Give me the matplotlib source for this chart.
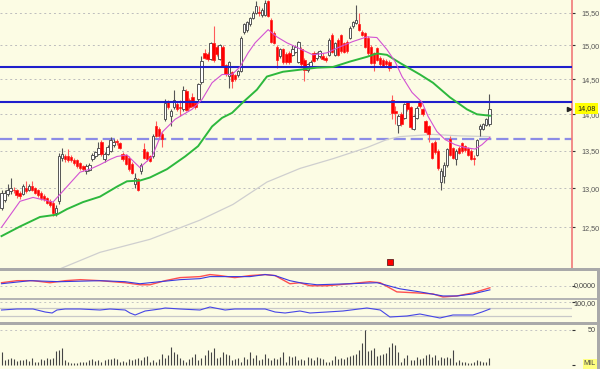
import numpy as np
import matplotlib
matplotlib.use('Agg')
import matplotlib.pyplot as plt
from matplotlib.patches import Rectangle
from matplotlib.ticker import NullLocator, NullFormatter
import matplotlib.transforms as mtransforms

plt.rcParams['font.family'] = ['Liberation Sans', 'DejaVu Sans']

# ---- price candles (open, high, low, close) ----
opens = [12.75, 12.85, 12.92, 12.96, 12.98, 12.97, 12.94, 12.93, 13.00, 12.98,
         13.03, 13.00, 12.97, 12.94, 12.90, 12.87, 12.84, 12.81, 12.68, 12.84,
         13.40, 13.42, 13.43, 13.41, 13.37, 13.37, 13.33, 13.29, 13.23, 13.24,
         13.38, 13.42, 13.46, 13.62, 13.39, 13.46, 13.50, 13.58, 13.63, 13.60,
         13.46, 13.44, 13.40, 13.32, 13.06, 13.12, 13.22, 13.52, 13.48, 13.42,
         13.43, 13.84, 13.80, 13.72, 13.93, 14.17, 13.97, 14.10, 14.14, 14.10,
         14.07, 14.33, 14.20, 14.24, 14.16, 14.21, 14.46, 14.88, 14.87, 14.80,
         15.03, 14.97, 14.80, 14.98, 14.71, 14.55, 14.60, 14.56, 14.56, 14.62,
         15.21, 15.24, 15.32, 15.42, 15.50, 15.51, 15.47, 15.47, 15.68, 15.39,
         15.19, 14.98, 14.85, 14.94, 14.87, 14.89, 14.86, 14.90, 14.76, 14.94,
         14.79, 14.64, 14.69, 14.89, 14.81, 14.84, 14.85, 14.82, 14.86, 15.16,
         14.86, 15.09, 15.16, 15.04, 15.06, 15.12, 15.29, 15.34, 15.32, 15.21,
         15.19, 15.12, 14.98, 14.88, 14.96, 14.82, 14.79, 14.77, 14.76, 14.20,
         14.04, 13.85, 14.00, 13.95, 14.17, 14.10, 13.80, 13.95, 14.17, 14.07,
         13.90, 13.83, 13.60, 13.62, 13.50, 13.08, 13.16, 13.30, 13.66, 13.53,
         13.38, 13.53, 13.60, 13.56, 13.53, 13.50, 13.40, 13.44, 13.79, 13.80,
         13.85, 13.86]
highs = [12.98, 12.98, 13.05, 13.13, 13.02, 12.99, 12.96, 13.05, 13.10, 13.05,
         13.09, 13.02, 12.99, 12.96, 12.92, 12.89, 12.86, 12.83, 12.78, 13.47,
         13.53, 13.46, 13.52, 13.44, 13.40, 13.39, 13.35, 13.31, 13.32, 13.33,
         13.47, 13.50, 13.62, 13.64, 13.48, 13.57, 13.68, 13.66, 13.66, 13.62,
         13.48, 13.46, 13.42, 13.34, 13.20, 13.14, 13.33, 13.60, 13.50, 13.44,
         13.72, 13.90, 13.82, 13.75, 14.22, 14.20, 14.08, 14.35, 14.17, 14.20,
         14.40, 14.36, 14.23, 14.30, 14.18, 14.45, 14.85, 14.94, 14.90, 15.05,
         15.29, 15.00, 15.02, 15.00, 14.73, 14.77, 14.62, 14.58, 14.64, 15.14,
         15.34, 15.37, 15.44, 15.52, 15.68, 15.60, 15.57, 15.70, 15.70, 15.42,
         15.22, 15.00, 14.96, 14.96, 14.90, 14.92, 15.00, 15.00, 15.07, 14.97,
         14.81, 14.74, 14.78, 14.92, 14.90, 14.93, 14.88, 14.84, 15.11, 15.19,
         15.06, 15.12, 15.18, 15.06, 15.08, 15.29, 15.38, 15.62, 15.50, 15.24,
         15.21, 15.14, 15.00, 14.90, 14.98, 14.85, 14.82, 14.80, 14.78, 14.28,
         14.12, 14.00, 14.03, 14.16, 14.19, 14.12, 13.99, 14.11, 14.20, 14.09,
         13.92, 13.85, 13.62, 13.64, 13.52, 13.27, 13.35, 13.54, 13.70, 13.55,
         13.52, 13.56, 13.62, 13.58, 13.55, 13.52, 13.44, 13.66, 13.86, 13.88,
         13.95, 14.29]
lows = [12.72, 12.82, 12.90, 12.93, 12.94, 12.87, 12.86, 12.91, 12.94, 12.96,
        12.96, 12.92, 12.89, 12.85, 12.84, 12.79, 12.76, 12.64, 12.64, 12.80,
        13.36, 13.35, 13.35, 13.34, 13.30, 13.27, 13.24, 13.22, 13.18, 13.22,
        13.36, 13.40, 13.44, 13.43, 13.35, 13.44, 13.48, 13.55, 13.58, 13.52,
        13.36, 13.30, 13.23, 13.18, 13.00, 12.96, 13.18, 13.38, 13.36, 13.34,
        13.40, 13.68, 13.68, 13.55, 13.90, 14.07, 13.84, 14.07, 14.05, 13.98,
        14.04, 14.04, 14.08, 14.10, 14.08, 14.18, 14.43, 14.80, 14.77, 14.78,
        14.76, 14.85, 14.78, 14.68, 14.55, 14.37, 14.37, 14.48, 14.54, 14.60,
        15.18, 15.20, 15.29, 15.40, 15.48, 15.45, 15.44, 15.45, 15.43, 15.03,
        15.02, 14.67, 14.82, 14.72, 14.72, 14.73, 14.84, 14.88, 14.74, 14.70,
        14.47, 14.60, 14.66, 14.75, 14.79, 14.82, 14.78, 14.76, 14.84, 14.88,
        14.84, 14.84, 14.89, 14.88, 14.89, 15.10, 15.27, 15.32, 15.22, 15.14,
        14.96, 14.86, 14.72, 14.62, 14.77, 14.70, 14.68, 14.70, 14.62, 13.93,
        13.86, 13.74, 13.84, 13.93, 14.05, 13.80, 13.78, 13.93, 14.09, 13.98,
        13.74, 13.62, 13.38, 13.46, 13.24, 12.98, 13.07, 13.28, 13.42, 13.38,
        13.30, 13.45, 13.47, 13.48, 13.42, 13.37, 13.30, 13.42, 13.70, 13.78,
        13.83, 13.84]
closes = [12.94, 12.94, 12.97, 13.00, 12.97, 12.91, 12.90, 13.03, 12.96, 13.03,
          12.98, 12.94, 12.91, 12.87, 12.86, 12.81, 12.78, 12.68, 12.75, 13.43,
          13.45, 13.38, 13.37, 13.37, 13.33, 13.29, 13.26, 13.25, 13.29, 13.31,
          13.44, 13.48, 13.53, 13.45, 13.46, 13.55, 13.64, 13.62, 13.61, 13.54,
          13.38, 13.32, 13.25, 13.20, 13.13, 12.98, 13.30, 13.40, 13.38, 13.36,
          13.70, 13.70, 13.70, 13.66, 14.16, 14.10, 14.05, 14.20, 14.07, 14.09,
          14.35, 14.06, 14.10, 14.12, 14.10, 14.43, 14.77, 14.82, 14.80, 15.03,
          14.78, 14.87, 15.00, 14.70, 14.57, 14.75, 14.47, 14.50, 14.62, 15.12,
          15.32, 15.35, 15.42, 15.50, 15.60, 15.50, 15.55, 15.65, 15.45, 15.05,
          15.04, 14.79, 14.94, 14.75, 14.75, 14.76, 14.94, 14.98, 15.05, 14.72,
          14.64, 14.72, 14.76, 14.77, 14.88, 14.91, 14.80, 14.78, 15.09, 14.90,
          15.04, 14.86, 14.91, 14.90, 14.91, 15.27, 15.36, 15.39, 15.24, 15.16,
          14.98, 14.88, 14.74, 14.74, 14.79, 14.72, 14.70, 14.72, 14.67, 14.02,
          14.02, 13.98, 13.86, 14.14, 14.07, 13.82, 13.97, 14.09, 14.11, 14.00,
          13.76, 13.72, 13.40, 13.48, 13.26, 13.22, 13.31, 13.52, 13.44, 13.40,
          13.50, 13.47, 13.49, 13.51, 13.44, 13.39, 13.38, 13.64, 13.84, 13.86,
          13.93, 14.08]

# moving averages (candle index, price)
ma_short_idx = [0, 6.1, 10.4, 17, 21.6, 25.9, 29.2, 32.5, 35.8, 38.1, 41.4, 45.7, 49.7, 53,
                57.3, 62.9, 66.2, 69.5, 72.8, 76.1, 78.7, 81.4, 83.7, 88, 90.9, 94.2, 98.5,
                102.8, 107.4, 111.7, 116, 120.6, 123.9, 127.2, 129.9, 132.2, 135.5, 138.8,
                140.8, 143.7, 146.4, 149.7, 153, 156.3, 158.6, 161.2]
ma_short = [12.50, 12.83, 12.88, 12.82, 13.02, 13.21, 13.25, 13.31, 13.38, 13.42, 13.44,
            13.27, 13.42, 13.75, 13.93, 14.07, 14.21, 14.45, 14.57, 14.57, 14.68, 14.89,
            15.04, 15.24, 15.13, 15.04, 14.95, 14.86, 14.89, 14.98, 15.06, 15.13, 15.12,
            14.94, 14.76, 14.54, 14.31, 14.17, 13.97, 13.76, 13.65, 13.58, 13.54, 13.52,
            13.58, 13.68]
ma_mid_idx = [0, 6.1, 12.7, 18.3, 21.6, 26.9, 32.5, 38.1, 41.4, 45.7, 49, 54.6, 60.6, 64.9,
              69.5, 72.8, 76.1, 79.7, 84.3, 87.6, 92.9, 98.5, 104.1, 109.4, 115, 120.6,
              123.9, 127.2, 131.5, 138.1, 142.4, 148, 153.6, 156.9, 161.2]
ma_mid = [12.39, 12.51, 12.63, 12.66, 12.73, 12.82, 12.89, 13.02, 13.09, 13.10, 13.14,
          13.25, 13.42, 13.56, 13.83, 13.95, 14.02, 14.17, 14.35, 14.54, 14.61, 14.64,
          14.67, 14.68, 14.76, 14.83, 14.88, 14.86, 14.74, 14.57, 14.45, 14.24, 14.07,
          14.00, 13.98]
ma_long_idx = [14.4, 19.3, 32.5, 49, 65.5, 76.4, 87.6, 98.5, 109.4, 120.6, 127.2, 131.5,
               142.4, 151.3, 161.2]
ma_long = [11.89, 11.99, 12.19, 12.35, 12.59, 12.79, 13.08, 13.26, 13.39, 13.54, 13.65,
           13.69, 13.72, 13.70, 13.69]

levels_solid = [14.68, 14.17]
level_dashed = 13.66
last_price = 14.08
price_ticks = [12.5, 13.0, 13.5, 14.0, 14.5, 15.0, 15.5]
price_labels = ['12,50', '13,00', '13,50', '14,00', '14,50', '15,00', '15,50']
event_idx = 128.2
event_price = 12.07

# oscillator (two lines)
osc_a_idx = [0, 5.1, 10.4, 16, 21, 26, 32.5, 40.8, 45.7, 49, 54, 58.9, 65.5, 68.8, 72.1,
             77, 82, 87, 90.3, 95.2, 98.5, 101.8, 107.4, 115, 121.6, 125, 130.5, 137.1,
             142.4, 145.7, 150.3, 155.6, 161.2]
osc_a = [0.06, 0.10, 0.10, 0.06, 0.10, 0.12, 0.10, 0.06, 0.02, 0.02, 0.10, 0.16, 0.18,
         0.22, 0.20, 0.16, 0.20, 0.22, 0.20, 0.04, 0.06, 0.00, 0.00, 0.04, 0.08, 0.06,
         -0.12, -0.14, -0.16, -0.22, -0.20, -0.14, -0.04]
osc_b_idx = [0, 9.4, 19.3, 32.5, 40.8, 45.7, 52.3, 58.9, 65.5, 68.8, 75.4, 82, 87, 90.3,
             95.2, 98.5, 104.1, 115, 124, 131.5, 138.1, 145.7, 150.3, 155.6, 161.2]
osc_b = [0.04, 0.10, 0.08, 0.10, 0.08, 0.04, 0.08, 0.12, 0.14, 0.18, 0.18, 0.18, 0.22,
         0.20, 0.10, 0.06, 0.02, 0.04, 0.06, -0.06, -0.12, -0.20, -0.20, -0.16, -0.08]

# strength index
rsi_idx = [0, 5.1, 10.4, 14.4, 16.7, 18.3, 21, 26, 32.5, 35.8, 40.8, 42.4, 44.1, 47.4,
           52.3, 54, 58.9, 65.5, 68.8, 73.8, 77, 82, 87, 90.3, 93.6, 98.5, 101.8, 107.4,
           112.7, 120.6, 125, 128.2, 133.8, 138.1, 144.7, 149, 155.6, 158.6, 161.2]
rsi = [60, 65, 65, 50, 45, 60, 65, 65, 60, 65, 60, 45, 35, 55, 65, 70, 65, 60, 75, 60, 65,
       65, 65, 50, 45, 55, 45, 50, 55, 70, 60, 25, 30, 40, 20, 35, 35, 50, 65]

# volume (millions)
volume = [18.1, 7.1, 8.6, 10.5, 8.6, 5.7, 7.1, 7.1, 8.6, 5.7,
          9.5, 3.8, 4.8, 8.6, 7.1, 9.5, 8.6, 10.5, 20.0, 21.4,
          23.8, 7.1, 4.8, 3.3, 2.4, 3.3, 3.8, 4.8, 3.8, 7.1,
          8.6, 5.7, 7.1, 4.8, 7.1, 8.6, 8.6, 9.5, 8.1, 3.8,
          5.7, 4.8, 8.6, 7.1, 8.6, 9.5, 7.1, 11.9, 13.3, 4.8,
          7.1, 4.8, 8.6, 15.2, 9.5, 14.3, 26.2, 18.1, 15.2, 9.5,
          7.1, 4.8, 8.6, 11.9, 15.2, 7.1, 9.5, 14.3, 21.4, 18.1,
          24.8, 9.5, 11.9, 18.1, 15.2, 14.3, 7.1, 8.6, 9.5, 4.8,
          11.9, 8.6, 18.1, 9.5, 14.3, 7.1, 8.6, 15.2, 9.5, 7.1,
          10.5, 8.6, 11.9, 18.1, 4.8, 13.3, 11.9, 13.3, 7.1,
          8.6, 7.1, 11.9, 10.5, 7.1, 11.9, 9.5, 8.6, 4.8, 3.8,
          7.1, 13.3, 8.6, 10.5, 8.6, 11.9, 13.3, 14.3, 15.2, 21.4,
          31.0, 50.0, 20.0, 21.4, 24.8, 13.3, 14.3, 15.2, 16.7, 26.2,
          31.0, 28.6, 18.1, 4.8, 9.5, 14.3, 7.1, 7.1, 11.9, 8.6,
          10.5, 14.3, 15.2, 11.9, 14.3, 7.1, 11.9, 9.5, 11.9, 9.5,
          21.4, 3.8, 7.1, 4.8, 4.8, 2.4, 2.4, 4.8, 7.1, 5.7,
          4.8, 4.8, 9.5]

bg = '#fcfce4'
W, H = 600, 369


def px_rect(x0, y0, x1, y1):
    return [x0 / W, 1 - y1 / H, (x1 - x0) / W, (y1 - y0) / H]


fig = plt.figure(figsize=(6, 3.69), dpi=100, facecolor=bg)
ax = fig.add_axes(px_rect(0, 0, 572, 268))
ax2 = fig.add_axes(px_rect(0, 271, 572, 298))
ax3 = fig.add_axes(px_rect(0, 300, 572, 322))
ax4 = fig.add_axes(px_rect(0, 324, 572, 369))

o = np.array(opens)
h = np.array(highs)
l = np.array(lows)
c = np.array(closes)
x = np.arange(len(o))
up = c >= o
dn = ~up

# main price panel
ax.set_facecolor(bg)
ax.set_yscale('log')
for lv in levels_solid:
    ax.axhline(lv, color='#1f1fcc', lw=1.5, zorder=4)
ax.axhline(level_dashed, color='#8c8ce6', lw=1.6, dashes=(5.5, 2.2), zorder=1.5)
ax.plot(ma_long_idx, ma_long, color='#cfcfcf', lw=0.9, zorder=1.6)
ax.plot(ma_mid_idx, ma_mid, color='#2db83d', lw=1.4, zorder=5)
ax.plot(ma_short_idx, ma_short, color='#d352d3', lw=0.8, zorder=5)

ax.vlines(x[up], l[up], h[up], color='#555555', lw=0.8, zorder=2)
ax.vlines(x[dn], l[dn], h[dn], color='#ff5a5a', lw=0.8, zorder=2)
ax.bar(x[up], c[up] - o[up], bottom=o[up], width=0.8, facecolor='white',
       edgecolor='#555555', lw=0.7, zorder=3)
ax.bar(x[dn], o[dn] - c[dn], bottom=c[dn], width=0.8, facecolor='#ff0000',
       edgecolor='#ff1a1a', lw=0.5, zorder=3)

ax.plot([event_idx], [event_price], marker='s', ms=4.5, mfc='#ff0000', mec='#602020',
        mew=0.6, ls='none', zorder=6)

ax.set_xlim(-0.5, 188.3)
ax.set_ylim(12.0, 15.70)
ax.set_yticks(price_ticks)
ax.set_yticklabels(price_labels)
ax.yaxis.set_minor_locator(NullLocator())
ax.yaxis.set_minor_formatter(NullFormatter())
ax.yaxis.tick_right()
ax.tick_params(axis='y', length=2.5, width=0.8, color='#333333', pad=4.2,
               labelsize=5.2, labelcolor='#555555')
ax.set_xticks([])
ax.grid(axis='y', color='#bdbdbd', ls=(0, (2, 3)), lw=0.7)
ax.set_axisbelow(True)
for s in ['top', 'left', 'bottom']:
    ax.spines[s].set_visible(False)
ax.spines['right'].set_color('#f07878')
ax.spines['right'].set_linewidth(1.2)

ax.plot([187.4], [last_price], marker='>', ms=3, color='#222222', ls='none',
        clip_on=False, zorder=7)
tr = mtransforms.blended_transform_factory(ax.transAxes, ax.transData)
ax.text(1.009, last_price, '14,08', transform=tr, fontsize=5.2, ha='left', va='center',
        color='#222222', zorder=8,
        bbox=dict(boxstyle='square,pad=0.3', fc='#ffff00', ec='none'))

# oscillator panel
ax2.set_facecolor(bg)
ax2.axhline(0, color='#c4c4c4', lw=0.7, ls=(0, (2, 3)))
ax2.plot(osc_a_idx, osc_a, color='#ff5050', lw=1.0)
ax2.plot(osc_b_idx, osc_b, color='#3a3ae0', lw=0.8)
ax2.set_xlim(-0.5, 188.3)
ax2.set_ylim(-0.24, 0.29)

# strength index panel
ax3.set_facecolor(bg)
ax3.axhline(100, color='#c4c4c4', lw=0.7, ls=(0, (2, 3)))
ax3.axhline(70, color='#c8c8c8', lw=0.9)
ax3.axhline(30, color='#c8c8c8', lw=0.9)
ax3.plot(rsi_idx, rsi, color='#4646e6', lw=0.8)
ax3.set_xlim(-0.5, 188.3)
ax3.set_ylim(0, 110)

# volume panel
ax4.set_facecolor(bg)
ax4.axhline(50, color='#c4c4c4', lw=0.7, ls=(0, (2, 3)))
ax4.vlines(x, 0, volume, color='#444444', lw=0.8)
ax4.set_xlim(-0.5, 188.3)
ax4.set_ylim(-5.7, 58.6)

for a, tick in [(ax2, [0]), (ax3, [100]), (ax4, [50, 0])]:
    a.set_xticks([])
    a.set_yticks(tick)
    a.set_yticklabels([])
    a.yaxis.tick_right()
    a.tick_params(axis='y', length=2.5, width=0.8, color='#333333')
    for s in a.spines.values():
        s.set_visible(False)

txt = dict(fontsize=5.2, color='#444444', ha='right', va='center')
for a, val, label in [(ax2, 0, '0,0000'), (ax3, 91, '100,00'), (ax4, 50, '50')]:
    trb = mtransforms.blended_transform_factory(fig.transFigure, a.transData)
    a.text(596 / W, val, label, transform=trb, **txt)
trb = mtransforms.blended_transform_factory(fig.transFigure, ax4.transData)
ax4.text(596 / W, 1.5, 'MIL', transform=trb, fontsize=5.2, color='#444444', ha='right',
         va='center', bbox=dict(boxstyle='square,pad=0.15', fc='#ffff80', ec='none'))

# panel separators
for y0, y1, col in [(268, 271, '#a9a9a9'), (298, 300, '#b4b4b4'), (322, 324.5, '#a9a9a9')]:
    fig.patches.append(Rectangle((0, 1 - y1 / H), 1, (y1 - y0) / H, transform=fig.transFigure,
                                 facecolor=col, edgecolor='none'))
fig.patches.append(Rectangle((597 / W, 0), 2.5 / W, (369 - 268) / H, transform=fig.transFigure,
                             facecolor='#a9a9a9', edgecolor='none'))

fig.savefig('out.png', dpi=100, facecolor=bg)
